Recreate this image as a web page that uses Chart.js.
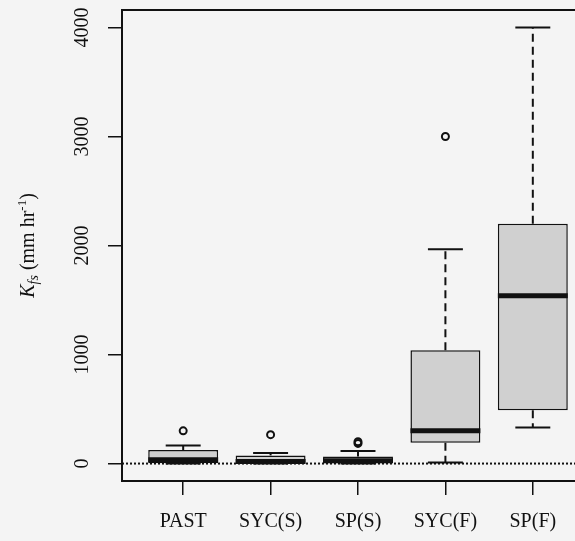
<!DOCTYPE html>
<html>
<head>
<meta charset="utf-8">
<script src="https://cdn.jsdelivr.net/npm/chart.js@4/dist/chart.umd.min.js"></script>
<style>
  html, body { margin: 0; padding: 0; overflow: hidden; background: #f4f4f4; }
  #wrap { width: 600px; height: 541px; }
</style>
</head>
<body>
<div id="wrap"><canvas id="canvas" width="600" height="541"></canvas></div>
<script>
// values
var categories  = ['PAST', 'SYC(S)', 'SP(S)', 'SYC(F)', 'SP(F)'];
var whiskerLow  = [0, 0, 0, 10, 330];
var quartile1   = [3, 0, 2, 190, 490];
var medians     = [35, 18, 25, 300, 1540];
var quartile3   = [125, 75, 65, 1040, 2200];
var whiskerHigh = [165, 97, 115, 1965, 4000];
var outliers    = [[300], [265], [185, 200], [3000], []];
var yTicks      = [0, 1000, 2000, 3000, 4000];

var positions = categories.map(function(c, i) { return i + 1; });

var boxData = positions.map(function(p, i) {
	return { x: p, y: [quartile1[i], quartile3[i]] };
});
var outlierData = [];
outliers.forEach(function(list, i) {
	list.forEach(function(v) { outlierData.push({ x: positions[i], y: v }); });
});

var serif = 'Liberation Serif';

// medians, whiskers, caps, zero line, frame and y labels
var boxExtras = {
	id: 'boxExtras',
	beforeDatasetsDraw: function(chart) {
		var ctx = chart.ctx, y = chart.scales.y, a = chart.chartArea;
		ctx.save();
		ctx.strokeStyle = '#111';
		ctx.lineWidth = 2;
		ctx.setLineDash([2, 2]);
		ctx.beginPath();
		ctx.moveTo(a.left, y.getPixelForValue(0));
		ctx.lineTo(a.right, y.getPixelForValue(0));
		ctx.stroke();
		ctx.restore();
	},
	afterDatasetsDraw: function(chart) {
		var ctx = chart.ctx, x = chart.scales.x, y = chart.scales.y;
		ctx.save();
		ctx.strokeStyle = '#111';
		positions.forEach(function(p, i) {
			var cx = x.getPixelForValue(p);
			var half = x.getPixelForValue(p + 0.4) - cx;
			var capHalf = half / 2;
			// whiskers
			ctx.lineWidth = 2;
			ctx.setLineDash([8, 5]);
			ctx.beginPath();
			ctx.moveTo(cx, y.getPixelForValue(quartile3[i]));
			ctx.lineTo(cx, y.getPixelForValue(whiskerHigh[i]));
			ctx.moveTo(cx, y.getPixelForValue(quartile1[i]));
			ctx.lineTo(cx, y.getPixelForValue(whiskerLow[i]));
			ctx.stroke();
			ctx.setLineDash([]);
			// caps
			ctx.beginPath();
			ctx.moveTo(cx - capHalf, y.getPixelForValue(whiskerHigh[i]));
			ctx.lineTo(cx + capHalf, y.getPixelForValue(whiskerHigh[i]));
			ctx.moveTo(cx - capHalf, y.getPixelForValue(whiskerLow[i]));
			ctx.lineTo(cx + capHalf, y.getPixelForValue(whiskerLow[i]));
			ctx.stroke();
			// median
			ctx.lineWidth = 5;
			ctx.beginPath();
			ctx.moveTo(cx - half, y.getPixelForValue(medians[i]));
			ctx.lineTo(cx + half, y.getPixelForValue(medians[i]));
			ctx.stroke();
		});
		ctx.restore();
	},
	afterDraw: function(chart) {
		var ctx = chart.ctx, y = chart.scales.y, a = chart.chartArea;
		ctx.save();
		ctx.strokeStyle = '#111';
		ctx.lineWidth = 2;
		ctx.strokeRect(a.left, a.top, a.right - a.left, a.bottom - a.top);

		// rotated y tick labels
		ctx.fillStyle = '#111';
		ctx.font = '20px "' + serif + '"';
		ctx.textAlign = 'center';
		ctx.textBaseline = 'alphabetic';
		y.ticks.forEach(function(t) {
			ctx.save();
			ctx.translate(88, y.getPixelForValue(t.value));
			ctx.rotate(-Math.PI / 2);
			ctx.fillText(String(t.value), 0, 0);
			ctx.restore();
		});

		// y axis title: K_fs (mm hr^-1)
		var parts = [
			{ t: 'K', f: 'italic 20px', dy: 0 },
			{ t: 'fs', f: 'italic 14px', dy: 4 },
			{ t: ' (mm hr', f: '20px', dy: 0 },
			{ t: '-1', f: '13px', dy: -8 },
			{ t: ')', f: '20px', dy: 0 }
		];
		var total = 0;
		parts.forEach(function(p) {
			ctx.font = p.f + ' "' + serif + '"';
			p.w = ctx.measureText(p.t).width;
			total += p.w;
		});
		ctx.translate(34, (a.top + a.bottom) / 2 + total / 2);
		ctx.rotate(-Math.PI / 2);
		ctx.textAlign = 'left';
		var pos = 0;
		parts.forEach(function(p) {
			ctx.font = p.f + ' "' + serif + '"';
			ctx.fillText(p.t, pos, p.dy);
			pos += p.w;
		});
		ctx.restore();
	}
};

window.onload = function() {
	var ctx = document.getElementById('canvas').getContext('2d');
	window.myBox = new Chart(ctx, {
		type: 'bar',
		data: {
			datasets: [{
				type: 'bar',
				label: 'boxes',
				data: boxData,
				backgroundColor: '#d0d0d0',
				borderColor: '#111',
				borderWidth: 1.5,
				borderSkipped: false,
				barPercentage: 1,
				categoryPercentage: 0.8
			}, {
				type: 'scatter',
				label: 'outliers',
				data: outlierData,
				pointStyle: 'circle',
				pointRadius: 3.5,
				borderWidth: 2,
				borderColor: '#111',
				backgroundColor: 'rgba(0,0,0,0)'
			}]
		},
		options: {
			responsive: false,
			animation: false,
			layout: { padding: { top: 10, left: 0, right: 0, bottom: 0 } },
			plugins: { legend: { display: false }, tooltip: { enabled: false } },
			scales: {
				x: {
					type: 'linear',
					min: 0.3,
					max: 5.7,
					offset: false,
					afterBuildTicks: function(s) {
						s.ticks = positions.map(function(p) { return { value: p }; });
					},
					afterFit: function(s) { s.height = 60; },
					grid: { display: true, drawOnChartArea: false, offset: false, tickLength: 14, color: '#111', lineWidth: 1.5 },
					border: { display: false },
					ticks: {
						autoSkip: false,
						maxRotation: 0,
						padding: 15,
						color: '#111',
						font: { family: serif, size: 20 },
						callback: function(v) { return categories[v - 1]; }
					}
				},
				y: {
					type: 'linear',
					min: -160,
					max: 4160,
					afterBuildTicks: function(s) {
						s.ticks = yTicks.map(function(v) { return { value: v }; });
					},
					afterFit: function(s) { s.width = 122; },
					grid: { display: true, drawOnChartArea: false, tickLength: 14, color: '#111', lineWidth: 1.5 },
					border: { display: false },
					ticks: { display: false }
				}
			}
		},
		plugins: [boxExtras]
	});
};
</script>
</body>
</html>
